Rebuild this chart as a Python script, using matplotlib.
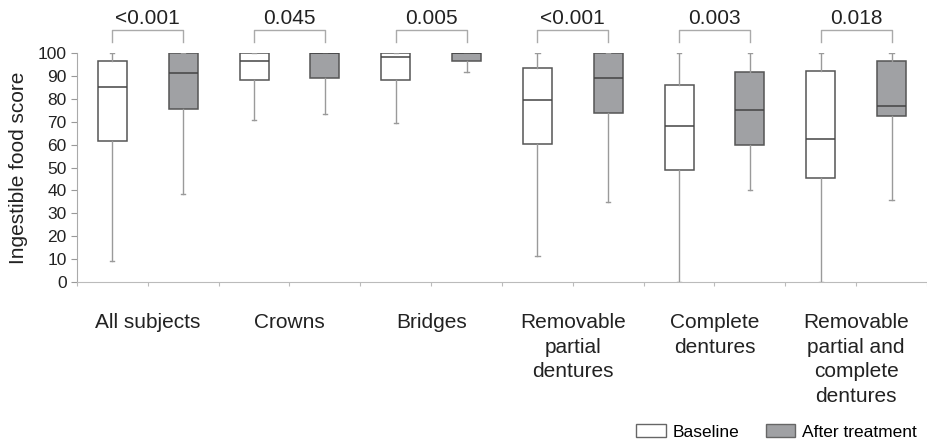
import matplotlib.pyplot as plt
import matplotlib.patches as mpatches
import matplotlib.transforms as mtransforms
import numpy as np

plt.rcParams['font.family'] = ['Liberation Sans', 'DejaVu Sans']

# %% data
categories = ['All subjects', 'Crowns', 'Bridges', 'Removable\npartial\ndentures',
              'Complete\ndentures', 'Removable\npartial and\ncomplete\ndentures']
p_values = ['<0.001', '0.045', '0.005', '<0.001', '0.003', '0.018']

# baseline: whislo, q1, med, q3, whishi
base_lo = [9.0, 70.6, 69.4, 11.2, 0.0, 0.0]
base_q1 = [61.4, 88.2, 88.2, 60.4, 48.9, 45.5]
base_med = [85.0, 96.5, 98.3, 79.5, 68.3, 62.6]
base_q3 = [96.5, 100, 100, 93.3, 85.9, 92.1]
base_hi = [100, 100, 100, 100, 100, 100]

# after treatment
post_lo = [38.4, 73.5, 91.7, 34.9, 40.0, 35.9]
post_q1 = [75.4, 89.2, 96.5, 73.8, 60.0, 72.3]
post_med = [91.4, 100, 100, 89.2, 75.1, 76.9]
post_q3 = [100, 100, 100, 100, 91.7, 96.5]
post_hi = [100, 100, 100, 100, 100, 100]


def make_stats(lo, q1, med, q3, hi):
    return [dict(whislo=a, q1=b, med=c, q3=d, whishi=e, fliers=[])
            for a, b, c, d, e in zip(lo, q1, med, q3, hi)]


base_stats = make_stats(base_lo, base_q1, base_med, base_q3, base_hi)
post_stats = make_stats(post_lo, post_q1, post_med, post_q3, post_hi)

# %% plot
fig = plt.figure(figsize=(9.27, 4.4), dpi=100)
ax = fig.add_axes([0.083, 0.359, 0.917, 0.5205])

n = len(categories)
pos_base = np.arange(n) * 2 + 0.5
pos_post = np.arange(n) * 2 + 1.5

box_edge = '#555555'
whisk = '#9a9a9a'
for stats, pos, fc in [(base_stats, pos_base, 'white'), (post_stats, pos_post, '#a0a1a4')]:
    ax.bxp(stats, positions=pos, widths=0.41, showfliers=False, patch_artist=True,
           boxprops=dict(facecolor=fc, edgecolor=box_edge, linewidth=1.1),
           medianprops=dict(color='#444444', linewidth=1.1),
           whiskerprops=dict(color=whisk, linewidth=1.0),
           capprops=dict(color=whisk, linewidth=1.0), capwidths=0.06)

ax.set_xlim(0, 2 * n)
ax.set_ylim(0, 100)
ax.set_yticks(np.arange(0, 101, 10))
ax.tick_params(axis='y', labelsize=12.5, color='#999999', length=4, labelcolor='#222222')
ax.set_xticks(np.arange(0, 2 * n + 1))
ax.set_xticklabels([])
ax.tick_params(axis='x', color='#bbbbbb', length=3)
for s in ['top', 'right']:
    ax.spines[s].set_visible(False)
ax.spines['left'].set_color('#aaaaaa')
ax.spines['bottom'].set_color('#bbbbbb')
ax.set_ylabel('Ingestible food score', fontsize=15, color='#222222', labelpad=7)

# p-value brackets
for i in range(n):
    x0, x1 = pos_base[i], pos_post[i]
    ax.plot([x0, x0, x1, x1], [105, 110.2, 110.2, 105], color='#aaaaaa', lw=1.0, clip_on=False)
    ax.text((x0 + x1) / 2, 111, p_values[i], ha='center', va='bottom', fontsize=15,
            color='#222222', clip_on=False)

# category labels
trans = mtransforms.blended_transform_factory(ax.transData, ax.transAxes)
for i, cat in enumerate(categories):
    ax.text(i * 2 + 1, -0.135, cat, transform=trans, ha='center', va='top', fontsize=15,
            linespacing=1.38, color='#222222')

handles = [mpatches.Patch(facecolor='white', edgecolor='#666666', label='Baseline'),
           mpatches.Patch(facecolor='#a0a1a4', edgecolor='#666666', label='After treatment')]
fig.legend(handles=handles, loc='lower right', bbox_to_anchor=(1.006, -0.035), ncol=2,
           frameon=False, fontsize=12.5, handlelength=1.7, handleheight=0.8,
           handletextpad=0.4, columnspacing=1.5)

fig.savefig('out.png', dpi=100)
